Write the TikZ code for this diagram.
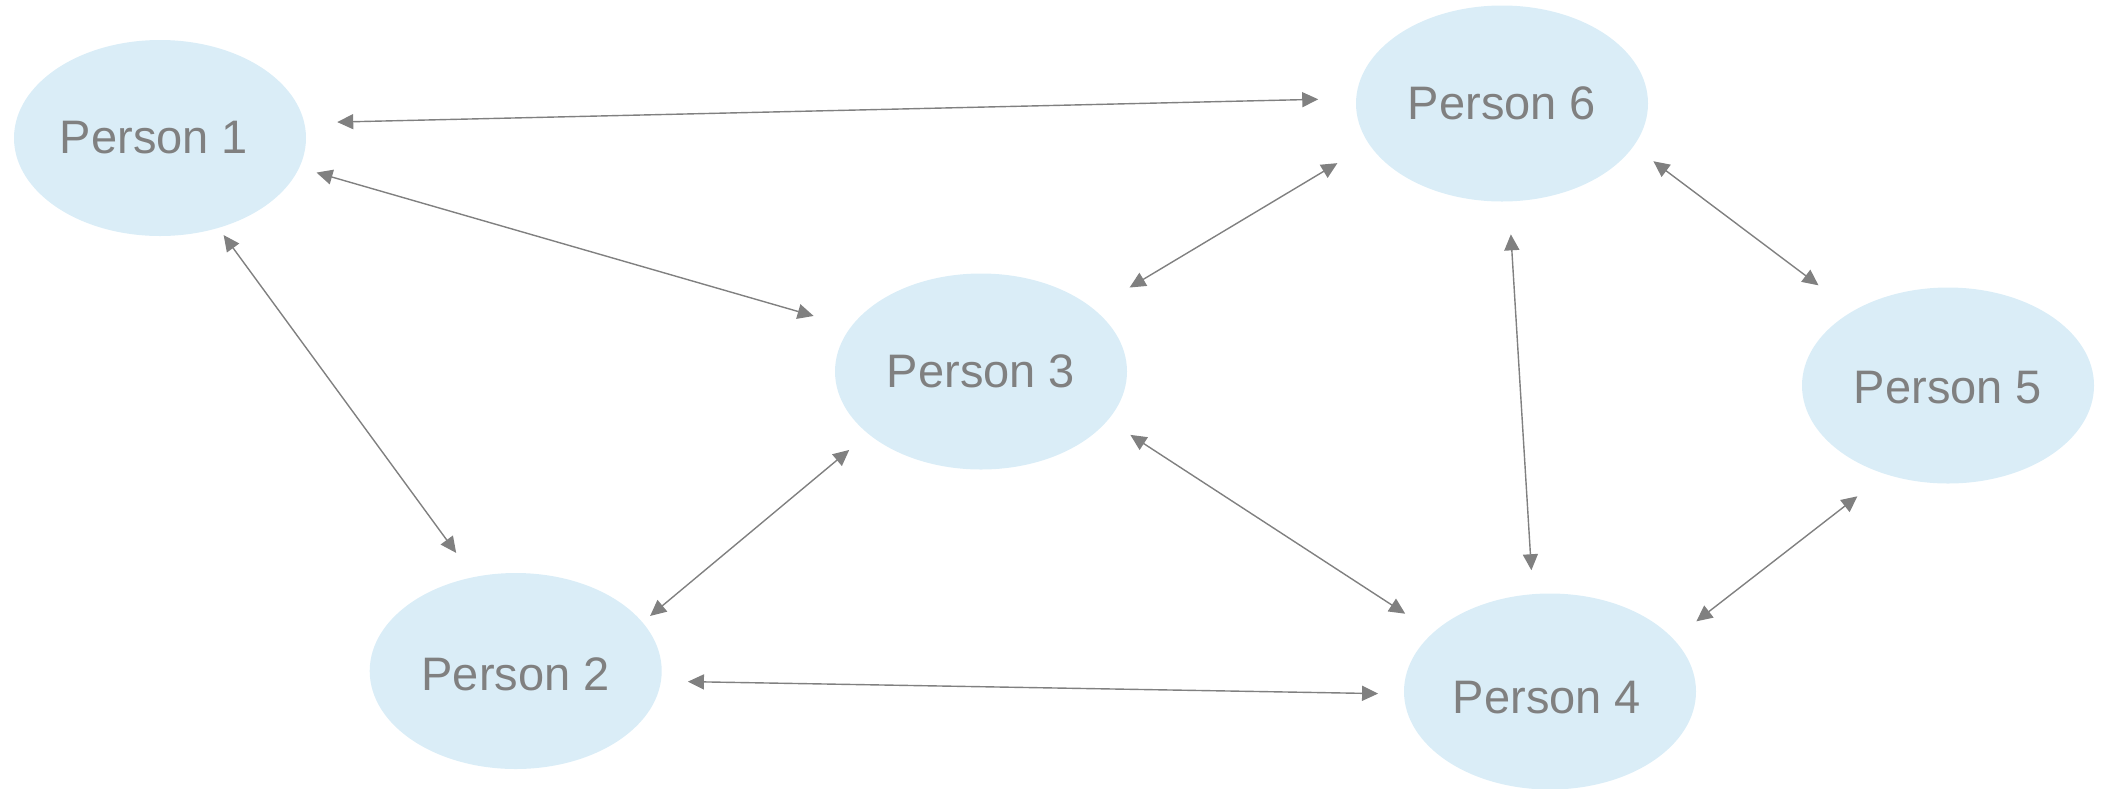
\documentclass[tikz,border=0pt]{standalone}
\usepackage{fontspec}
\setmainfont{Liberation Sans}
\usetikzlibrary{arrows.meta,shapes.geometric}
\definecolor{bubble}{RGB}{218,237,247}
\definecolor{ink}{RGB}{128,128,128}
\tikzset{
  person/.style={ellipse, fill=bubble, draw=none, inner sep=0pt, outer sep=0pt,
    minimum width=292pt, minimum height=196pt, text=ink,
    font=\fontsize{47}{51}\selectfont},
  conn/.style={draw=ink, line width=1.4pt,
    {Triangle[length=16pt,width=15pt]}-{Triangle[length=16pt,width=15pt]}}
}
\begin{document}
\begin{tikzpicture}[x=1pt,y=-1pt]
\useasboundingbox (0,0) rectangle (2103,788);
\node[person] (p1) at (160,138) {\hspace*{-12pt}Person 1};
\node[person] (p6) at (1502,103.5) {Person 6};
\node[person] (p3) at (981,371.5) {Person 3};
\node[person] (p5) at (1948,385.5) {\raisebox{-2pt}[\height][0pt]{Person 5}};
\node[person] (p2) at (515.7,671) {\raisebox{-3pt}[\height][0pt]{Person 2}};
\node[person] (p4) at (1550,691.5) {\hspace*{-6pt}\raisebox{-6pt}[\height][0pt]{Person 4}};
\draw[conn, shorten <=33pt, shorten >=38pt] (p1.6.46) -- (p6.178.5);
\draw[conn, shorten <=18pt, shorten >=39pt] (p1.-12.6) -- (p3.161.5);
\draw[conn, shorten <=9pt, shorten >=30pt] (p1.-57.3) -- (p2.114.6);
\draw[conn, shorten <=37pt, shorten >=42pt] (p6.-163.1) -- (p3.29.4);
\draw[conn, shorten <=25pt, shorten >=43pt] (p6.-18.6) -- (p5.142.5);
\draw[conn, shorten <=33pt, shorten >=24pt] (p6.-86) -- (p4.100.9);
\draw[conn, shorten <=25pt, shorten >=10pt] (p3.-151.6) -- (p2.21.3);
\draw[conn, shorten <=27pt, shorten >=34pt] (p3.-21.7) -- (p4.153.7);
\draw[conn, shorten <=27pt, shorten >=26pt] (p2.-4.6) -- (p4.-179.7);
\draw[conn, shorten <=36pt, shorten >=29pt] (p5.-125.3) -- (p4.23.2);
\end{tikzpicture}
\end{document}
